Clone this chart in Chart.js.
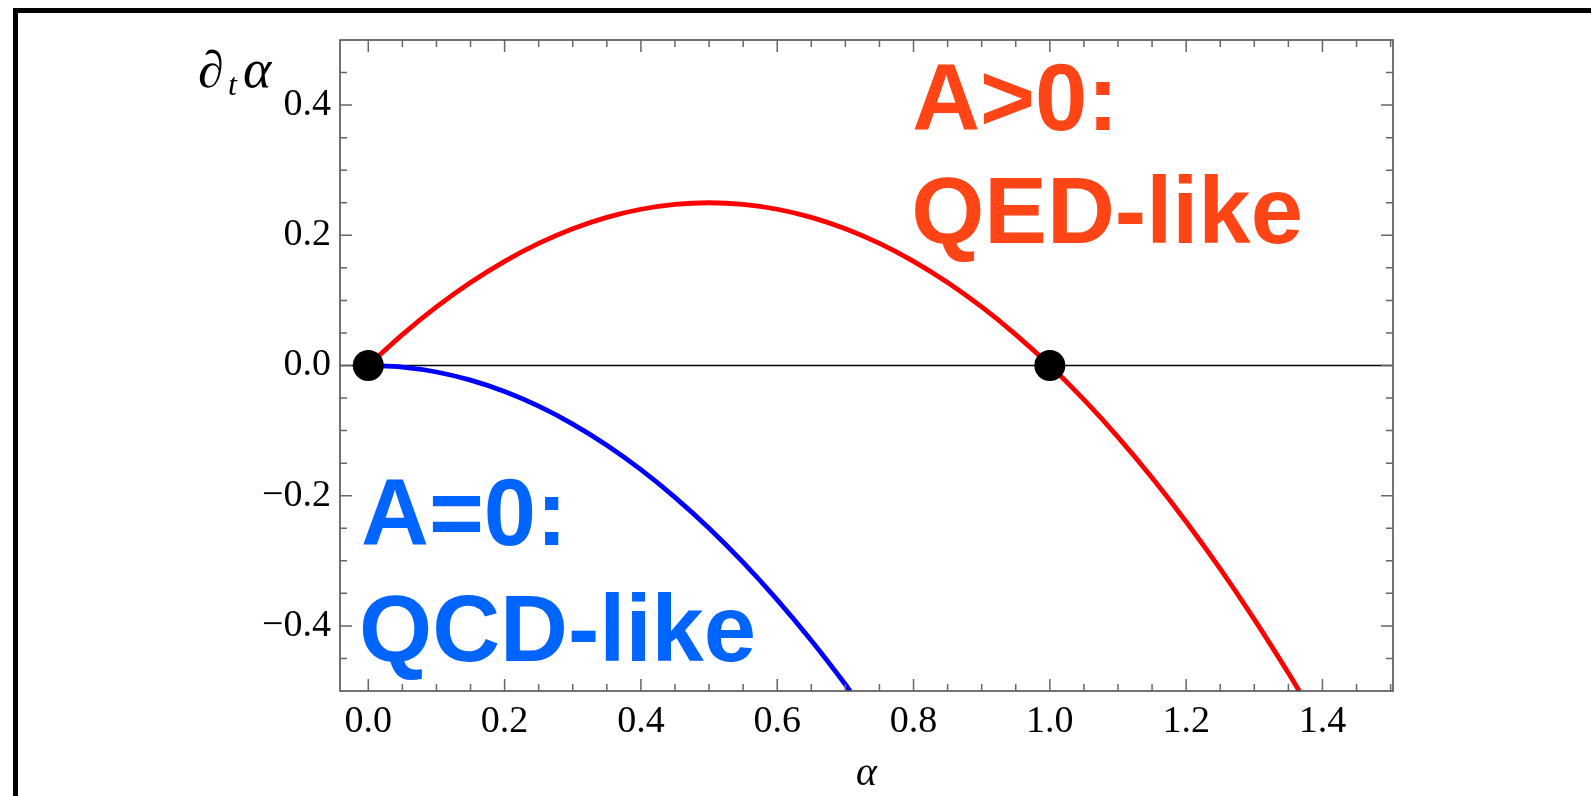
<!DOCTYPE html>
<html>
<head>
<meta charset="utf-8">
<script src="https://cdn.jsdelivr.net/npm/chart.js@4/dist/chart.umd.min.js"></script>
<style>
html,body{margin:0;padding:0;background:#fff;overflow:hidden;width:1591px;height:796px;}
#frame{position:absolute;left:13px;top:8px;width:1580px;height:790px;border-left:5px solid #000;border-top:5px solid #000;}
#c{position:absolute;left:0;top:0;}
</style>
</head>
<body>
<div id="frame"></div>
<canvas id="c" width="1591" height="796"></canvas>
<script>
// ---- data ----
const alphaRed = [0,0.05,0.1,0.15,0.2,0.25,0.3,0.35,0.4,0.45,0.5,0.55,0.6,0.65,0.7,0.75,0.8,0.85,0.9,0.95,1.0,1.05,1.1,1.15,1.2,1.25,1.3,1.35,1.366];
const rateRed  = [0,0.0475,0.09,0.1275,0.16,0.1875,0.21,0.2275,0.24,0.2475,0.25,0.2475,0.24,0.2275,0.21,0.1875,0.16,0.1275,0.09,0.0475,0,-0.0525,-0.11,-0.1725,-0.24,-0.3125,-0.39,-0.4725,-0.5];
const alphaBlue = [0,0.05,0.1,0.15,0.2,0.25,0.3,0.35,0.4,0.45,0.5,0.55,0.6,0.65,0.7,0.707];
const rateBlue  = [0,-0.0025,-0.01,-0.0225,-0.04,-0.0625,-0.09,-0.1225,-0.16,-0.2025,-0.25,-0.3025,-0.36,-0.4225,-0.49,-0.5];
const fixedX = [0,1];
const fixedY = [0,0];
const xTicks = [0,0.2,0.4,0.6,0.8,1.0,1.2,1.4];
const yTicks = [-0.4,-0.2,0,0.2,0.4];
const xMinor = [0.05,0.1,0.15,0.25,0.3,0.35,0.45,0.5,0.55,0.65,0.7,0.75,0.85,0.9,0.95,1.05,1.1,1.15,1.25,1.3,1.35,1.45,1.5];
const yMinor = [-0.45,-0.35,-0.3,-0.25,-0.15,-0.1,-0.05,0.05,0.1,0.15,0.25,0.3,0.35,0.45];
const xRange = [-0.0415,1.5035];
const yRange = [-0.5,0.5];
const notes = [
  {text:'A>0:', x:0.798, y:0.3616, color:'#ff4515'},
  {text:'QED-like', x:0.7965, y:0.188, color:'#ff4515'},
  {text:'A=0:', x:-0.0107, y:-0.276, color:'#0064ff'},
  {text:'QCD-like', x:-0.0135, y:-0.454, color:'#0064ff'}
];

const pts = (xs, ys) => xs.map((x,i)=>({x:x, y:ys[i]}));
const fmt = v => { const s = Math.abs(v).toFixed(1); return v < -1e-9 ? '\u2212' + s : s; };
const SERIF = '"Liberation Serif", "Times New Roman", serif';

const frameTicks = {
  id:'frameTicks',
  afterDraw(chart){
    const ctx = chart.ctx, a = chart.chartArea, xs = chart.scales.x, ys = chart.scales.y;
    ctx.save();
    ctx.strokeStyle = '#444'; ctx.lineWidth = 1.5;
    ctx.strokeRect(a.left, a.top, a.right - a.left, a.bottom - a.top);
    ctx.strokeStyle = '#666'; ctx.lineWidth = 1.5;
    const tick = (vals, len) => {
      vals.forEach(v=>{
        const px = xs.getPixelForValue(v);
        if (px < a.left || px > a.right) return;
        ctx.beginPath();
        ctx.moveTo(px, a.bottom); ctx.lineTo(px, a.bottom - len);
        ctx.moveTo(px, a.top); ctx.lineTo(px, a.top + len);
        ctx.stroke();
      });
    };
    const tickY = (vals, len) => {
      vals.forEach(v=>{
        const py = ys.getPixelForValue(v);
        ctx.beginPath();
        ctx.moveTo(a.left, py); ctx.lineTo(a.left + len, py);
        ctx.moveTo(a.right, py); ctx.lineTo(a.right - len, py);
        ctx.stroke();
      });
    };
    tick(xTicks, 12); tick(xMinor, 7);
    tickY(yTicks, 12); tickY(yMinor, 7);
    // annotations
    ctx.font = 'bold 94px "Liberation Sans", Arial, sans-serif';
    ctx.textBaseline = 'alphabetic'; ctx.textAlign = 'left';
    notes.forEach(n=>{
      ctx.fillStyle = n.color;
      ctx.fillText(n.text, xs.getPixelForValue(n.x), ys.getPixelForValue(n.y));
    });
    // axis labels
    ctx.fillStyle = '#000';
    ctx.font = 'italic 52px ' + SERIF;
    ctx.fillText('\u2202', 198, 87);
    ctx.font = 'italic 32px ' + SERIF;
    ctx.fillText('t', 228, 95);
    ctx.font = 'italic 54px ' + SERIF;
    ctx.fillText('\u03b1', 243, 87);
    ctx.font = 'italic 40px ' + SERIF;
    ctx.textAlign = 'center';
    ctx.fillText('\u03b1', (a.left + a.right) / 2, 785);
    ctx.restore();
  }
};

new Chart(document.getElementById('c'), {
  type:'scatter',
  data:{
    datasets:[
      {label:'fixed points', data:pts(fixedX, fixedY), pointRadius:15.5, pointHoverRadius:15.5, backgroundColor:'#000', borderWidth:0, showLine:false, order:0, clip:false},
      {label:'A>0', data:pts(alphaRed, rateRed), showLine:true, borderColor:'#ff0000', borderWidth:4.8, pointRadius:0, cubicInterpolationMode:'monotone', order:1},
      {label:'A=0', data:pts(alphaBlue, rateBlue), showLine:true, borderColor:'#0000ff', borderWidth:4.8, pointRadius:0, cubicInterpolationMode:'monotone', order:2},
      {label:'zero', data:pts(xRange, [0,0]), showLine:true, borderColor:'#000', borderWidth:1.3, pointRadius:0, order:3}
    ]
  },
  options:{
    responsive:false, animation:false, devicePixelRatio:1,
    layout:{padding:{left:0, top:40, right:198, bottom:0}},
    plugins:{legend:{display:false}, tooltip:{enabled:false}},
    scales:{
      x:{
        type:'linear', min:xRange[0], max:xRange[1],
        afterFit(s){ s.height = 105; },
        afterBuildTicks(s){ s.ticks = xTicks.map(v=>({value:v})); },
        grid:{display:true, drawOnChartArea:false, drawTicks:false},
        border:{display:false},
        ticks:{callback:fmt, color:'#000', padding:8, maxRotation:0, autoSkip:false, font:{family:SERIF, size:38}}
      },
      y:{
        type:'linear', min:yRange[0], max:yRange[1],
        afterFit(s){ s.width = 340; },
        afterBuildTicks(s){ s.ticks = yTicks.map(v=>({value:v})); },
        grid:{display:true, drawOnChartArea:false, drawTicks:false},
        border:{display:false},
        ticks:{callback:fmt, color:'#000', padding:9, autoSkip:false, font:{family:SERIF, size:38}}
      }
    }
  },
  plugins:[frameTicks]
});
</script>
</body>
</html>
